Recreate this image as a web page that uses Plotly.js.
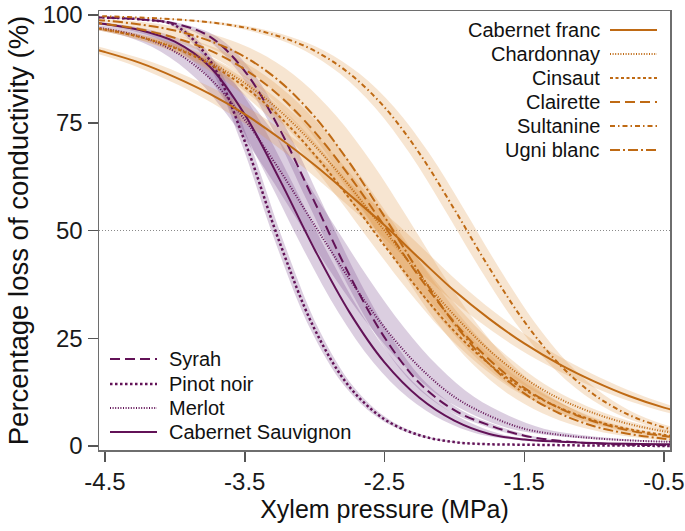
<!DOCTYPE html>
<html><head><meta charset="utf-8">
<script src="https://cdn.plot.ly/plotly-3.0.1.min.js"></script>
<style>html,body{margin:0;padding:0;background:#fff;} #chart{width:685px;height:531px;}</style>
</head><body><div id="chart"></div>
<script>
// ---- data ----
const xGrid = [-4.7,-4.5,-4.25,-4.0,-3.75,-3.5,-3.25,-3.0,-2.75,-2.5,-2.25,-2.0,-1.75,-1.5,-1.25,-1.0,-0.75,-0.5,-0.3];

const cabernetFranc = [93.1,91.4,88.9,85.6,81.7,77.0,71.4,65.2,58.3,51.2,43.5,36.0,29.5,23.8,19.0,15.0,11.6,8.9,7.3];
const chardonnay    = [97.5,96.6,94.9,92.5,89.0,84.2,77.8,69.7,60.3,50.0,39.7,30.3,22.2,15.8,11.0,7.6,5.1,3.4,2.5];
const cinsaut       = [97.6,96.6,94.9,92.3,88.6,83.3,76.4,67.6,57.4,46.5,36.0,26.6,19.0,13.1,8.9,5.9,3.9,2.6,1.8];
const clairette     = [98.6,97.9,96.7,94.7,91.8,87.4,81.2,72.9,62.6,51.0,39.2,28.7,20.0,13.5,8.8,5.7,3.6,2.3,1.6];
const sultanine     = [99.8,99.7,99.4,99.0,98.3,97.1,95.0,91.7,86.4,78.6,67.9,54.9,41.3,28.9,19.0,11.9,7.2,4.3,2.8];
const ugniBlanc     = [99.1,98.7,97.8,96.4,94.0,90.3,84.6,76.4,65.7,53.2,40.2,28.4,19.0,12.2,7.6,4.6,2.8,1.7,1.1];

const syrah             = [99.6,99.4,99.0,98.0,95.0,87.0,73.5,56.6,39.6,25.2,14.6,8.3,4.8,2.4,1.2,0.6,0.3,0.2,0.1];
const pinotNoir         = [99.6,99.4,99.0,97.6,89.5,70.7,47.2,27.1,13.7,6.2,2.5,0.9,0.4,0.3,0.2,0.1,0.1,0.0,0.0];
const merlot            = [97.6,96.8,95.0,91.5,85.3,75.7,64.0,51.2,38.7,27.5,18.3,11.4,7.0,4.0,2.6,1.8,1.3,1.0,0.9];
const cabernetSauvignon = [98.6,97.9,96.5,93.8,88.0,76.9,61.8,45.6,31.0,19.4,11.2,5.9,2.8,1.5,1.0,0.7,0.5,0.4,0.3];

const orangeNames = ['Cabernet franc','Chardonnay','Cinsaut','Clairette','Sultanine','Ugni blanc'];
const purpleNames = ['Syrah','Pinot noir','Merlot','Cabernet Sauvignon'];
// confidence band half-widths along pressure (MPa): toward more negative / less negative side
const orangeCiLow  = [0.10,0.08,0.08,0.08,0.07,0.12];
const orangeCiHigh = [0.10,0.08,0.08,0.08,0.07,0.16];
const purpleCiLow  = [0.05,0.03,0.10,0.08];
const purpleCiHigh = [0.05,0.03,0.14,0.08];

const xTickVals = [-4.5,-3.5,-2.5,-1.5,-0.5];
const xTickText = ['-4.5','-3.5','-2.5','-1.5','-0.5'];
const yTickVals = [0,25,50,75,100];
const yTickText = ['0','25','50','75','100'];

// ---- styling ----
const ORANGE = '#BF6A14', PURPLE = '#621257';
const ORANGE_FILL = 'rgba(222,150,70,0.25)', PURPLE_FILL = 'rgba(115,65,135,0.26)';
const FONT = 'Arial, "Liberation Sans", sans-serif';
const orangeValues = [cabernetFranc, chardonnay, cinsaut, clairette, sultanine, ugniBlanc];
const purpleValues = [syrah, pinotNoir, merlot, cabernetSauvignon];
const orangeDash = ['solid','1px,1.6px','3px,2.5px','10px,5px','5px,3px,1.5px,3px','10px,3px,2px,3px'];
const purpleDash = ['10px,5px','2.5px,2.5px','1px,1.6px','solid'];
const orangeWidth = [2,2,2,2,2,2];
const purpleWidth = [2,2.5,2,2];

function band(vals, lo, hi, color){
  const xs = xGrid.map(v => v + hi).concat(xGrid.slice().reverse().map(v => v - lo));
  const ys = vals.concat(vals.slice().reverse());
  return {x: xs, y: ys, type:'scatter', mode:'lines', fill:'toself', fillcolor: color,
          line:{width:0, shape:'spline', smoothing:1}, hoverinfo:'skip', showlegend:false};
}
function curve(vals, name, color, dash, width){
  return {x: xGrid, y: vals, name: name, type:'scatter', mode:'lines',
          line:{color: color, dash: dash, width: width, shape:'spline', smoothing:1}, showlegend:false};
}

const traces = [];
purpleValues.forEach((v,i) => traces.push(band(v, purpleCiLow[i], purpleCiHigh[i], PURPLE_FILL)));
orangeValues.forEach((v,i) => traces.push(band(v, orangeCiLow[i], orangeCiHigh[i], ORANGE_FILL)));
purpleValues.forEach((v,i) => traces.push(curve(v, purpleNames[i], PURPLE, purpleDash[i], purpleWidth[i])));
orangeValues.forEach((v,i) => traces.push(curve(v, orangeNames[i], ORANGE, orangeDash[i], orangeWidth[i])));

// ---- legends (drawn as annotations + sample lines in paper coordinates) ----
const PL = 99, PR = 670, PT = 11, PB = 450;
const px2x = p => (p - PL) / (PR - PL);
const py2y = p => (PB - p) / (PB - PT);
const annotations = [], shapes = [];
const orangeRows = [30, 54, 78, 102, 126, 150];
orangeNames.forEach((n,i) => {
  annotations.push({xref:'paper', yref:'paper', x: px2x(602), y: py2y(orangeRows[i]), text: n,
    showarrow:false, xanchor:'right', yanchor:'middle', font:{family:FONT, size:20, color:'#111'}});
  shapes.push({type:'line', xref:'paper', yref:'paper', x0: px2x(610), x1: px2x(657),
    y0: py2y(orangeRows[i]), y1: py2y(orangeRows[i]), line:{color:ORANGE, width:orangeWidth[i], dash:orangeDash[i]}});
});
const purpleRows = [359, 384, 408, 432];
purpleNames.forEach((n,i) => {
  annotations.push({xref:'paper', yref:'paper', x: px2x(167), y: py2y(purpleRows[i]), text: n,
    showarrow:false, xanchor:'left', yanchor:'middle', font:{family:FONT, size:20, color:'#111'}});
  shapes.push({type:'line', xref:'paper', yref:'paper', x0: px2x(110), x1: px2x(157),
    y0: py2y(purpleRows[i]), y1: py2y(purpleRows[i]), line:{color:PURPLE, width:purpleWidth[i], dash:purpleDash[i]}});
});
// 50 % reference line
shapes.push({type:'line', xref:'paper', yref:'y', x0:0, x1:1, y0:50, y1:50, layer:'below',
  line:{color:'#8a8a8a', width:1, dash:'1px,2px'}});

const layout = {
  width:685, height:531,
  margin:{l:PL, r:685-PR, t:PT, b:531-PB},
  paper_bgcolor:'#fff', plot_bgcolor:'#fff',
  font:{family:FONT, color:'#111'},
  showlegend:false,
  xaxis:{range:[-4.543,-0.457], tickvals:xTickVals, ticktext:xTickText,
    showgrid:false, zeroline:false, showline:true, mirror:true, linecolor:'#6e6e6e', linewidth:1.5,
    ticks:'outside', ticklen:10, tickwidth:1.5, tickcolor:'#555',
    tickfont:{family:FONT, size:24, color:'#1a1a1a'},
    title:{text:'Xylem pressure (MPa)', font:{family:FONT, size:25, color:'#111'}, standoff:4}},
  yaxis:{range:[-0.93,100.93], tickvals:yTickVals, ticktext:yTickText,
    showgrid:false, zeroline:false, showline:true, mirror:true, linecolor:'#6e6e6e', linewidth:1.5,
    ticks:'outside', ticklen:10, tickwidth:1.5, tickcolor:'#555',
    tickfont:{family:FONT, size:24, color:'#1a1a1a'},
    title:{text:'Percentage loss of conductivity (%)', font:{family:FONT, size:27.5, color:'#111'}, standoff:6}},
  annotations: annotations,
  shapes: shapes
};

Plotly.newPlot('chart', traces, layout, {staticPlot:true, displayModeBar:false});
</script>
</body></html>
